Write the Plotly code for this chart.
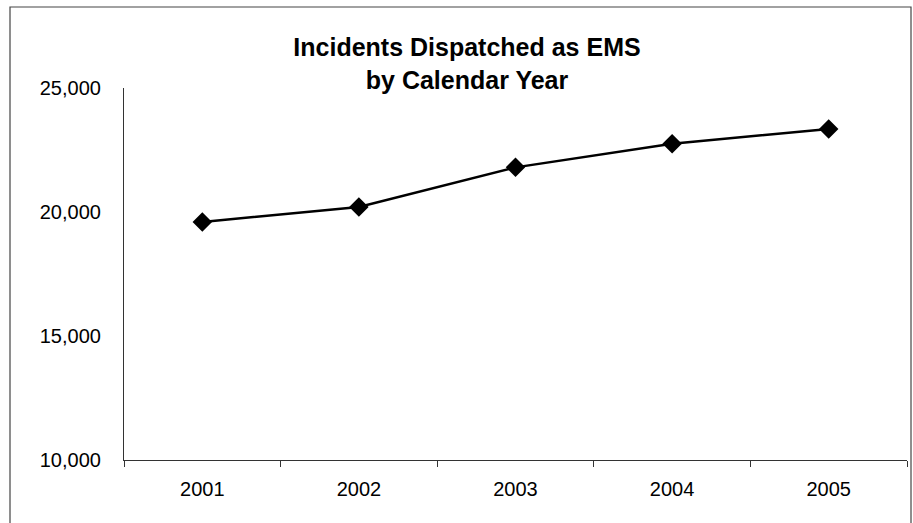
import plotly.graph_objects as go

years = ["2001", "2002", "2003", "2004", "2005"]
incidents = [19600, 20200, 21800, 22750, 23350]
y_ticks = [10000, 15000, 20000, 25000]
y_tick_labels = ["10,000", "15,000", "20,000", "25,000"]

fig = go.Figure()
fig.add_trace(go.Scatter(
    x=years, y=incidents, mode="lines+markers",
    line=dict(color="black", width=2.5),
    marker=dict(symbol="diamond", size=15, color="black"),
    showlegend=False, hoverinfo="x+y",
))

fig.update_layout(
    width=913, height=523,
    margin=dict(l=124, r=6, t=88, b=63),
    paper_bgcolor="white", plot_bgcolor="white",
    font=dict(family="Liberation Sans, Arial, sans-serif", color="black", size=20),
    title=dict(
        text="<b>Incidents Dispatched as EMS<br>by Calendar Year</b>",
        x=467 / 913, xanchor="center", y=1 - 56 / 523, yanchor="top",
        font=dict(size=25, color="black"),
    ),
    xaxis=dict(
        type="category", range=[-0.5, 4.5], tickson="boundaries",
        ticks="outside", ticklen=6, tickcolor="#333", tickwidth=1,
        showline=True, linecolor="#333", linewidth=1.2,
        showgrid=False, zeroline=False, ticklabelstandoff=11,
        tickfont=dict(size=20),
    ),
    yaxis=dict(
        range=[10000, 25000], tickvals=y_ticks, ticktext=y_tick_labels,
        ticks="", showline=True, linecolor="#333", linewidth=1.2,
        showgrid=False, zeroline=False, ticklabelstandoff=18,
        tickfont=dict(size=20),
    ),
    shapes=[dict(
        type="rect", xref="paper", yref="paper",
        x0=(10 - 124) / 783, x1=(911 - 124) / 783,
        y0=-0.3, y1=(460 - 7) / 372,
        line=dict(color="#444", width=1.2), fillcolor="rgba(0,0,0,0)",
        layer="below",
    )],
)

fig.write_html("out.html")
